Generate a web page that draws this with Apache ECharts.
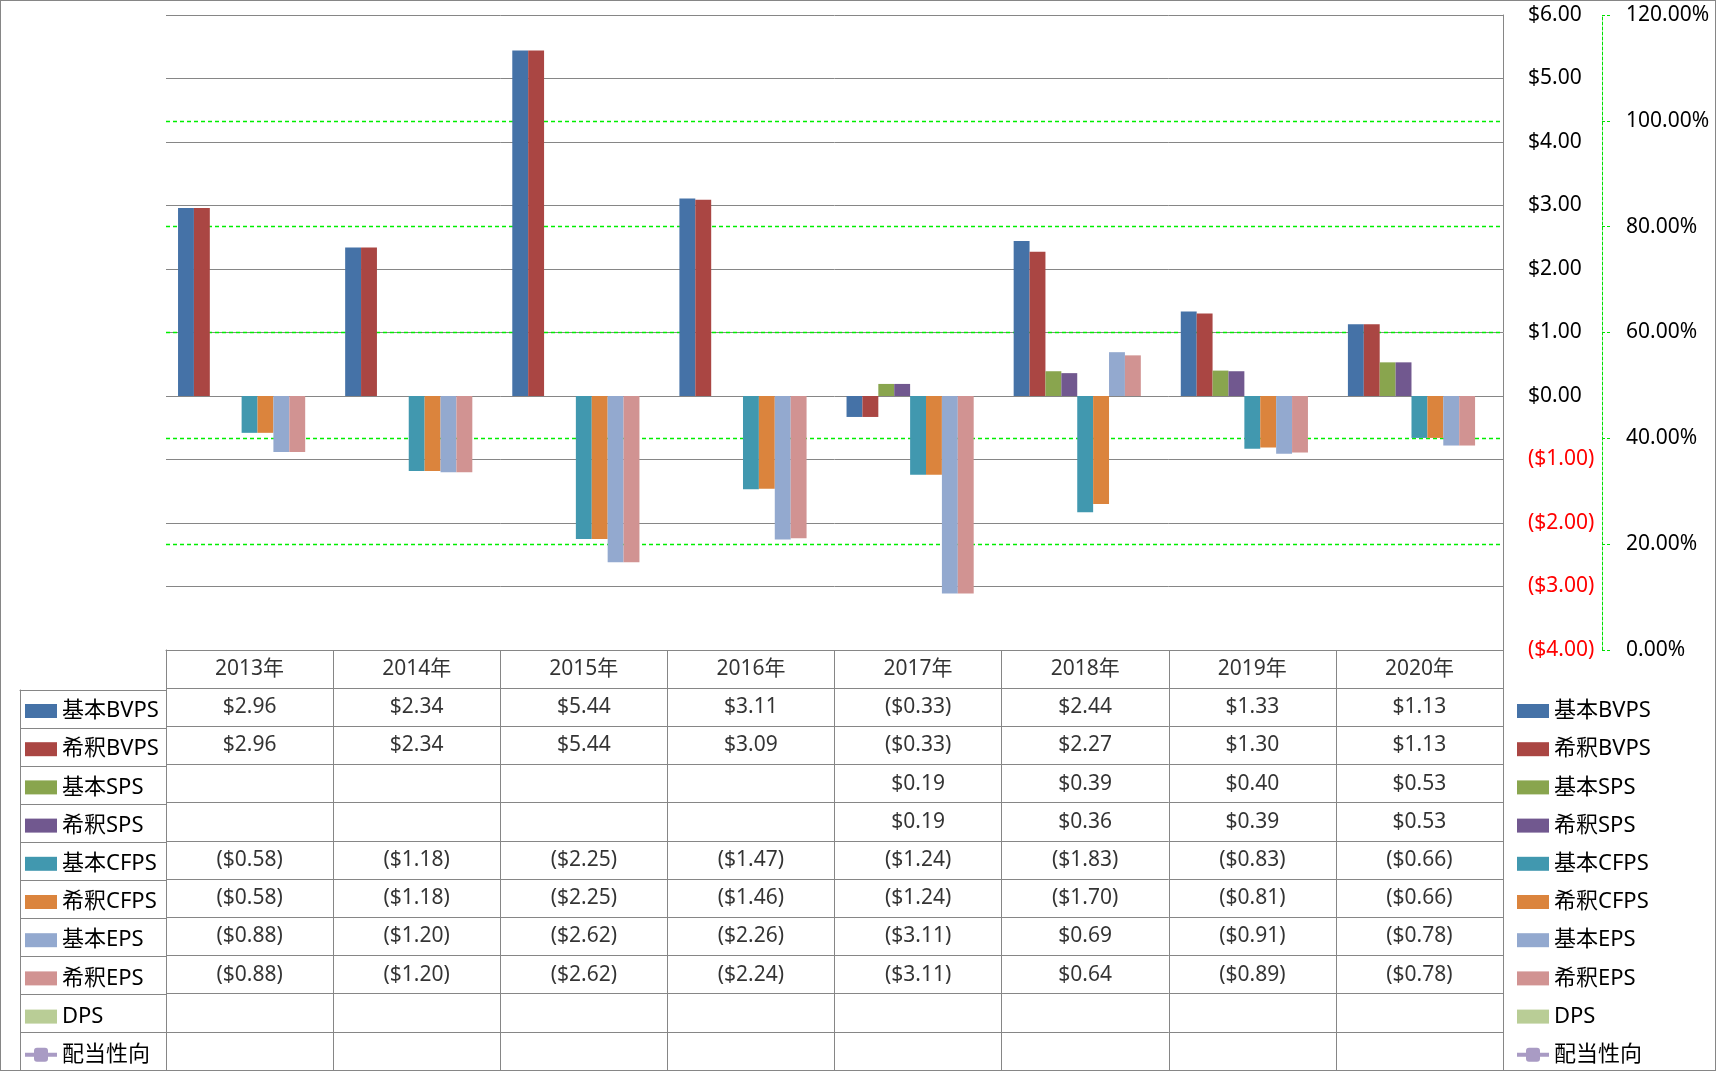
<!DOCTYPE html>
<html>
<head>
<meta charset="utf-8">
<script src="https://cdn.jsdelivr.net/npm/echarts@6/dist/echarts.min.js"></script>
<style>
  html, body { margin: 0; padding: 0; background: #fff; }
  #chart { position: absolute; left: 0; top: 0; width: 1716px; height: 1071px; }
  #frame { position: absolute; left: 0; top: 0; width: 1716px; height: 1071px; border: 1px solid #868686; box-sizing: border-box; pointer-events: none; }
</style>
</head>
<body>
<div id="chart"></div>
<div id="frame"></div>
<script>
// ---- data ----
const categories = ['2013年', '2014年', '2015年', '2016年', '2017年', '2018年', '2019年', '2020年'];
const basicBVPS   = [2.96, 2.34, 5.44, 3.11, -0.33, 2.44, 1.33, 1.13];
const dilutedBVPS = [2.96, 2.34, 5.44, 3.09, -0.33, 2.27, 1.30, 1.13];
const basicSPS    = [null, null, null, null, 0.19, 0.39, 0.40, 0.53];
const dilutedSPS  = [null, null, null, null, 0.19, 0.36, 0.39, 0.53];
const basicCFPS   = [-0.58, -1.18, -2.25, -1.47, -1.24, -1.83, -0.83, -0.66];
const dilutedCFPS = [-0.58, -1.18, -2.25, -1.46, -1.24, -1.70, -0.81, -0.66];
const basicEPS    = [-0.88, -1.20, -2.62, -2.26, -3.11, 0.69, -0.91, -0.78];
const dilutedEPS  = [-0.88, -1.20, -2.62, -2.24, -3.11, 0.64, -0.89, -0.78];
const dps         = [null, null, null, null, null, null, null, null];
const payoutRatio = [null, null, null, null, null, null, null, null];

const barNames = ['基本BVPS', '希釈BVPS', '基本SPS', '希釈SPS', '基本CFPS', '希釈CFPS', '基本EPS', '希釈EPS', 'DPS'];
const barData  = [basicBVPS, dilutedBVPS, basicSPS, dilutedSPS, basicCFPS, dilutedCFPS, basicEPS, dilutedEPS, dps];
const lineName = '配当性向';
const colors = ['#4572A7', '#AA4643', '#89A54E', '#71588F', '#4198AF', '#DB843D', '#93A9CF', '#D19392', '#B9CD96', '#A99BC4'];

const FONT = '"Noto Sans", "Noto Sans CJK JP", sans-serif';
const GRAY = '#868686';

function money(v) {
  if (v == null) return '';
  return v < 0 ? '($' + Math.abs(v).toFixed(2) + ')' : '$' + v.toFixed(2);
}

// table cells
const tableRows = ['h'].concat(barNames).concat([lineName]);
const cellData = [];
categories.forEach((c, i) => cellData.push({ value: [i, 0], t: c }));
barData.forEach((arr, s) => {
  arr.forEach((v, i) => { if (v != null) cellData.push({ value: [i, s + 1], t: money(v) }); });
});
payoutRatio.forEach((v, i) => { if (v != null) cellData.push({ value: [i, 10], t: (v * 100).toFixed(2) + '%' }); });

const series = barNames.map((n, k) => ({
  name: n, type: 'bar', xAxisIndex: 0, yAxisIndex: 0,
  data: barData[k], barGap: '0%', barCategoryGap: '14.4%',
  itemStyle: { color: colors[k] }
}));
series.push({
  name: lineName, type: 'line', xAxisIndex: 0, yAxisIndex: 1, data: payoutRatio,
  symbol: 'roundRect', symbolSize: 16,
  lineStyle: { color: colors[9], width: 5 }, itemStyle: { color: colors[9] }
});
series.push({
  type: 'scatter', xAxisIndex: 1, yAxisIndex: 2, data: cellData, silent: true,
  symbol: 'circle', symbolSize: 1, itemStyle: { color: 'rgba(0,0,0,0)' },
  label: { show: true, position: 'inside', offset: [0, 4], formatter: p => p.data.t, color: '#000', fontSize: 21, fontFamily: FONT },
  labelLayout: { hideOverlap: false }
});

const lineIcon = 'path://M0 5H32V9H0Z M12 0H20Q23 0 23 3V11Q23 14 20 14H12Q9 14 9 11V3Q9 0 12 0Z';
const legendData = barNames.map(n => ({ name: n, icon: 'rect' })).concat([{ name: lineName, icon: lineIcon }]);
const legendBase = {
  orient: 'vertical', top: 700, padding: 0, itemWidth: 32, itemHeight: 14, itemGap: 16.2,
  selectedMode: false, data: legendData,
  textStyle: { fontSize: 22, lineHeight: 22, color: '#000', fontFamily: FONT }
};

const option = {
  animation: false,
  textStyle: { fontFamily: FONT },
  legend: [
    Object.assign({}, legendBase, { left: 25 }),
    Object.assign({}, legendBase, { left: 1517 })
  ],
  grid: [
    { left: 166, right: 213, top: 15, height: 635 },
    { left: 166, right: 213, top: 650, bottom: 1 },
    { left: 20, right: 1550, top: 690, bottom: 1 }
  ],
  xAxis: [
    { gridIndex: 0, type: 'category', data: categories,
      axisLine: { show: true, onZero: false, lineStyle: { color: GRAY, width: 1 } },
      axisTick: { show: false }, axisLabel: { show: false } },
    { gridIndex: 1, type: 'category', data: categories, position: 'bottom',
      axisLine: { show: true, lineStyle: { color: GRAY } },
      axisTick: { show: false }, axisLabel: { show: false },
      splitLine: { show: true, lineStyle: { color: GRAY, width: 1 } } },
    { gridIndex: 2, type: 'category', data: ['legend'], position: 'top',
      axisLine: { show: true, lineStyle: { color: GRAY } },
      axisTick: { show: false }, axisLabel: { show: false },
      splitLine: { show: true, lineStyle: { color: GRAY, width: 1 } } }
  ],
  yAxis: [
    { gridIndex: 0, type: 'value', position: 'right', min: -4, max: 6, interval: 1,
      axisLine: { show: true, lineStyle: { color: GRAY } }, axisTick: { show: false },
      axisLabel: { margin: 25, align: 'left', fontSize: 21, fontFamily: FONT,
        formatter: v => money(v), color: v => (Number(v) < 0 ? '#FF0000' : '#000') },
      splitLine: { show: true, lineStyle: { color: GRAY, width: 1 } } },
    { gridIndex: 0, type: 'value', position: 'right', offset: 99, min: 0, max: 1.2, interval: 0.2,
      axisLine: { show: true, lineStyle: { color: '#00E000', type: [3, 2], width: 1 } },
      axisTick: { show: true, length: 8, lineStyle: { color: '#00E000', type: [3, 2] } },
      axisLabel: { margin: 24, align: 'left', fontSize: 21, color: '#000', fontFamily: FONT,
        formatter: v => (v * 100).toFixed(2) + '%' },
      splitLine: { show: true, showMinLine: false, showMaxLine: false,
        lineStyle: { color: '#00EE00', type: [4, 3], width: 1.3 } } },
    { gridIndex: 1, type: 'category', data: tableRows, inverse: true,
      axisLine: { show: true, lineStyle: { color: GRAY } }, axisTick: { show: false }, axisLabel: { show: false },
      splitLine: { show: true, lineStyle: { color: GRAY, width: 1 } } },
    { gridIndex: 1, type: 'category', data: tableRows, inverse: true, position: 'right',
      axisLine: { show: true, lineStyle: { color: GRAY } }, axisTick: { show: false }, axisLabel: { show: false } },
    { gridIndex: 2, type: 'category', data: tableRows.slice(1), inverse: true,
      axisLine: { show: true, lineStyle: { color: GRAY } }, axisTick: { show: false }, axisLabel: { show: false },
      splitLine: { show: true, lineStyle: { color: GRAY, width: 1 } } }
  ],
  series: series
};

const chart = echarts.init(document.getElementById('chart'), null, { renderer: 'canvas' });
chart.setOption(option);
</script>
</body>
</html>
